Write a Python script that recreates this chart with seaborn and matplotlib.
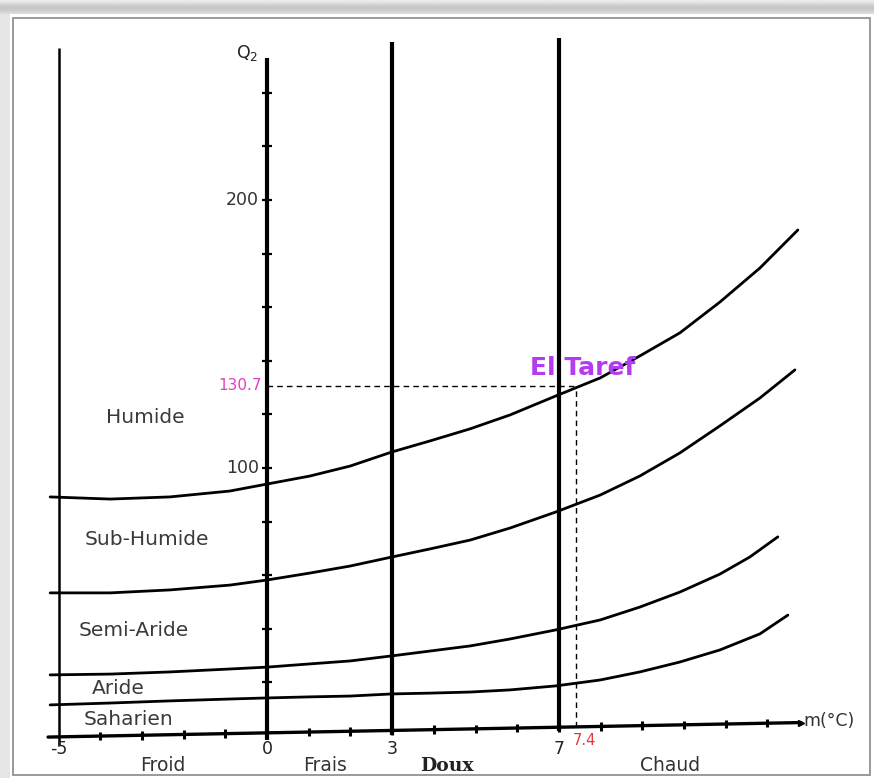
import numpy as np
import pandas as pd
import matplotlib.pyplot as plt
import seaborn as sns
from matplotlib.patches import Rectangle

# Emberger climagram - El Taref
# boundary curves: m (°C) -> Q2
curve_m = {
    'humide': [-5.20, -3.76, -2.33, -0.89, 0.0, 1.03, 1.99, 3.0, 3.91, 4.87, 5.83,
               6.93, 7.99, 8.94, 9.90, 10.86, 11.82, 12.73],
    'subhumide': [-5.20, -3.76, -2.33, -0.89, 0.0, 1.03, 1.99, 3.0, 3.91, 4.87, 5.83,
                  6.93, 7.99, 8.94, 9.90, 10.86, 11.82, 12.66],
    'semiaride': [-5.20, -3.76, -2.33, -0.89, 0.0, 1.03, 1.99, 3.0, 3.91, 4.87, 5.83,
                  6.93, 7.99, 8.94, 9.90, 10.86, 11.58, 12.25],
    'aride': [-5.20, -3.76, -2.33, -0.89, 0.0, 1.03, 1.99, 3.0, 3.91, 4.87, 5.83,
              6.93, 7.99, 8.94, 9.90, 10.86, 11.82, 12.49],
}
curve_q2 = {
    'humide': [89.2, 88.4, 89.2, 91.4, 94.0, 97.0, 100.7, 106.0, 110.1, 114.6, 119.8,
               126.9, 133.6, 141.8, 150.4, 161.9, 174.6, 188.8],
    'subhumide': [53.4, 53.4, 54.5, 56.3, 58.2, 60.8, 63.4, 66.8, 69.8, 73.1, 77.6,
                  83.6, 89.9, 97.0, 105.6, 115.7, 126.1, 136.6],
    'semiaride': [22.8, 23.1, 23.9, 25.0, 25.7, 26.9, 28.0, 29.9, 31.7, 33.6, 36.2,
                  39.6, 43.3, 48.1, 53.7, 60.4, 66.8, 74.3],
    'aride': [11.6, 12.3, 13.1, 13.8, 14.2, 14.6, 14.9, 15.7, 16.0, 16.4, 17.2,
              18.7, 20.9, 23.9, 27.6, 32.1, 38.1, 45.1],
}

# vertical lines: m value, top, bottom (Q2)
vlines_m = [-5, 0, 3, 7]
vlines_top = [256.7, 253.0, 259.0, 260.4]
vlines_bottom = [-3.4, -1.5, 0.5, 2.0]
vlines_lw = [1.8, 3.0, 3.0, 3.0]

m_ticks = list(range(-4, 13))
q2_ticks = list(range(20, 260, 20))
q2_labels = {100: '100', 200: '200'}
m_labels = {-5: '-5', 0: '0', 3: '3', 7: '7'}

zones = ['Humide', 'Sub-Humide', 'Semi-Aride', 'Aride', 'Saharien']
zone_m = [-2.92, -2.89, -3.19, -3.57, -3.33]
zone_q2 = [118.7, 73.5, 39.2, 17.9, 6.3]

classes = ['Froid', 'Frais', 'Doux', 'Chaud']
class_m = [-2.49, 1.39, 4.32, 9.66]

station = 'El Taref'
station_m = 7.4
station_q2 = 130.7

df = pd.concat([pd.DataFrame({'m': curve_m[k], 'Q2': curve_q2[k], 'curve': k})
                for k in curve_m], ignore_index=True)

sns.set_theme(style='white')
plt.rcParams['font.family'] = ['DejaVu Sans']

fig = plt.figure(figsize=(8.74, 7.78), dpi=100)
fig.patch.set_facecolor('#e6e6e6')
W, H = 874, 778

# frame of the scanned picture: grey shadow on top and left, white sheet
shade = fig.add_axes([0, 1 - 14 / H, 1, 14 / H])
shade.imshow(np.array([0.92, 0.86, 0.8, 0.78, 0.8, 0.86])[:, None] * np.ones((1, 10)),
             cmap='gray', vmin=0, vmax=1, aspect='auto', interpolation='bilinear')
shade.set_axis_off()
fig.patches.append(Rectangle((10 / W, 0), 864 / W, (H - 14) / H, transform=fig.transFigure,
                             facecolor='white', edgecolor='none', zorder=-2))
fig.patches.append(Rectangle((13 / W, 3 / H), 857 / W, (H - 21) / H, transform=fig.transFigure,
                             facecolor='white', edgecolor='#9a9a9a', lw=1.4, zorder=-1))

ax = fig.add_axes([0, 0, 1, 1])
ax.set_axis_off()
ax.patch.set_alpha(0)
ax.set_xlim(-6.403, 14.556)
ax.set_ylim(-15.67, 274.6)

sns.lineplot(data=df, x='m', y='Q2', units='curve', estimator=None, sort=False,
             color='black', lw=2.0, ax=ax, legend=False)

for m, top, bot, lw in zip(vlines_m, vlines_top, vlines_bottom, vlines_lw):
    ax.plot([m, m], [bot, top], color='black', lw=lw, solid_capstyle='butt')

# m axis (the scan is slightly skewed: the axis rises a little to the right)
def axis_q2(m):
    return -0.4 + (np.asarray(m) + 5.25) * 0.3

ax.plot([-5.25, 12.8], axis_q2([-5.25, 12.8]), color='black', lw=2.4)
ax.plot([12.8], [axis_q2(12.8)], marker='>', color='black', ms=5)
for m in m_ticks:
    y0 = axis_q2(m)
    ax.plot([m, m], [y0 - 1.6, y0 + 1.6], color='black', lw=2.2, solid_capstyle='butt')
ax.hlines(q2_ticks, -0.12, 0.12, color='black', lw=1.6)

for v, s in q2_labels.items():
    ax.text(-0.2, v, s, ha='right', va='center', fontsize=12.5, color='#333333')
for v, s in m_labels.items():
    ax.text(v, -5.0, s, ha='center', va='center', fontsize=12.5, color='#222222')
ax.text(-0.48, 255, 'Q$_2$', ha='center', va='center', fontsize=12.5, color='#222222')
ax.text(12.87, 5.5, 'm(°C)', ha='left', va='center', fontsize=12.5, color='#333333')

for name, m, q in zip(zones, zone_m, zone_q2):
    ax.text(m, q, name, ha='center', va='center', fontsize=14.5, color='#3a3a3a')

for name, m in zip(classes, class_m):
    if name == 'Doux':
        ax.text(m, -11.2, name, ha='center', va='center', fontsize=13.5, color='#222222',
                family='DejaVu Serif', fontweight='bold')
    else:
        ax.text(m, -11.0, name, ha='center', va='center', fontsize=13.5, color='#333333')

# station
ax.plot([0, station_m], [station_q2, station_q2], color='black', lw=1.0, ls=(0, (4, 3)))
ax.plot([station_m, station_m], [axis_q2(station_m), station_q2], color='black', lw=1.0,
        ls=(0, (4, 3)))
ax.text(-0.12, station_q2, f'{station_q2}', ha='right', va='center', fontsize=11,
        color='#e040c0')
ax.text(station_m - 0.08, -1.8, f'{station_m}', ha='left', va='center', fontsize=10.5,
        color='#e03a3a')
ax.text(7.58, 137.3, station, ha='center', va='center', fontsize=18, fontweight='bold',
        color='#b43cf0')

fig.savefig('out.png', dpi=100)
